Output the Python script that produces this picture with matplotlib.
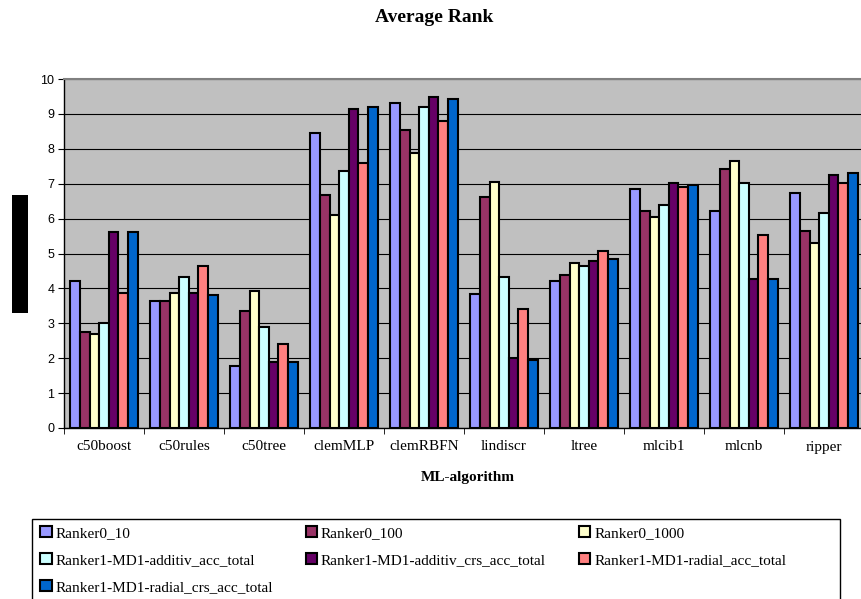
import matplotlib.pyplot as plt
from matplotlib.patches import Rectangle
import numpy as np

algorithms = ['c50boost', 'c50rules', 'c50tree', 'clemMLP', 'clemRBFN',
              'lindiscr', 'ltree', 'mlcib1', 'mlcnb', 'ripper']

series_names = ['Ranker0_10', 'Ranker0_100', 'Ranker0_1000',
                'Ranker1-MD1-additiv_acc_total', 'Ranker1-MD1-additiv_crs_acc_total',
                'Ranker1-MD1-radial_acc_total', 'Ranker1-MD1-radial_crs_acc_total']

ranker0_10 = [4.21, 3.63, 1.79, 8.45, 9.32, 3.85, 4.21, 6.84, 6.21, 6.73]
ranker0_100 = [2.76, 3.63, 3.35, 6.67, 8.53, 6.63, 4.38, 6.21, 7.42, 5.64]
ranker0_1000 = [2.69, 3.86, 3.92, 6.10, 7.88, 7.06, 4.73, 6.04, 7.66, 5.29]
additiv_acc = [3.00, 4.32, 2.88, 7.37, 9.21, 4.32, 4.65, 6.38, 7.01, 6.15]
additiv_crs = [5.63, 3.86, 1.90, 9.14, 9.49, 2.02, 4.78, 7.01, 4.26, 7.24]
radial_acc = [3.86, 4.65, 2.41, 7.59, 8.80, 3.40, 5.06, 6.91, 5.52, 7.01]
radial_crs = [5.63, 3.80, 1.90, 9.21, 9.44, 1.95, 4.83, 6.96, 4.26, 7.30]

series = [ranker0_10, ranker0_100, ranker0_1000, additiv_acc,
          additiv_crs, radial_acc, radial_crs]
colors = ['#9999FF', '#993366', '#FFFFCC', '#CCFFFF', '#660066', '#FF8080', '#0066CC']

W, H = 861, 599
fig = plt.figure(figsize=(W / 100, H / 100), dpi=100)
ax = fig.add_axes([64 / W, 1 - 428 / H, 800 / W, 349 / H])
ax.set_facecolor('#C0C0C0')

x = np.arange(len(algorithms))
bw = 0.12
handles = []
for i, (vals, col) in enumerate(zip(series, colors)):
    b = ax.bar(x + (i - 3) * bw, vals, width=bw, color=col, edgecolor='black',
               linewidth=1.5, label=series_names[i], zorder=3)
    handles.append(b)

ax.set_xlim(-0.5, 9.5)
ax.set_ylim(0, 10)
ax.set_yticks(range(11))
ax.yaxis.grid(True, color='black', linewidth=0.8, zorder=1)
ax.set_axisbelow(True)
ax.tick_params(axis='y', direction='out', length=4, labelsize=9, pad=3)
for lab in ax.get_yticklabels():
    lab.set_family('Liberation Sans')

ax.set_xticks(x)
ax.set_xticklabels(algorithms, family='Liberation Serif', fontsize=11)
ax.set_xticks(np.arange(-0.5, 10, 1), minor=True)
ax.tick_params(axis='x', which='major', length=0, pad=9)
ax.tick_params(axis='x', which='minor', direction='out', length=4)

ax.spines['top'].set_color('#808080')
ax.spines['top'].set_linewidth(1.5)
ax.spines['right'].set_visible(False)
ax.spines['left'].set_linewidth(1.0)
ax.spines['bottom'].set_linewidth(1.0)

fig.text(434 / W, 1 - 18 / H, 'Average Rank', ha='center', va='center',
         family='Liberation Serif', fontweight='bold', fontsize=14)
fig.text(468 / W, 1 - 478 / H, 'ML-algorithm', ha='center', va='center',
         family='Liberation Serif', fontweight='bold', fontsize=11)

# black box over the y-axis title
fig.patches.append(Rectangle((12 / W, 1 - 313 / H), 16 / W, 118 / H,
                             transform=fig.transFigure, facecolor='black',
                             edgecolor='none'))

# legend frame (bottom cut off by the image edge)
fig.patches.append(Rectangle((32 / W, -0.05), 808 / W, 0.05 + (H - 519) / H,
                             transform=fig.transFigure, facecolor='white',
                             edgecolor='black', linewidth=1.0))

order = [0, 3, 6, 1, 4, 2, 5]
leg = fig.legend([handles[k] for k in order], [series_names[k] for k in order],
                 ncol=3, loc='upper left', bbox_to_anchor=(37 / W, 1 - 523 / H),
                 frameon=False, prop={'family': 'Liberation Serif', 'size': 11},
                 handlelength=0.75, handleheight=0.75, handletextpad=0.25,
                 columnspacing=2.15, labelspacing=0.85, borderpad=0.2,
                 borderaxespad=0)

fig.savefig('out.png', dpi=100)
